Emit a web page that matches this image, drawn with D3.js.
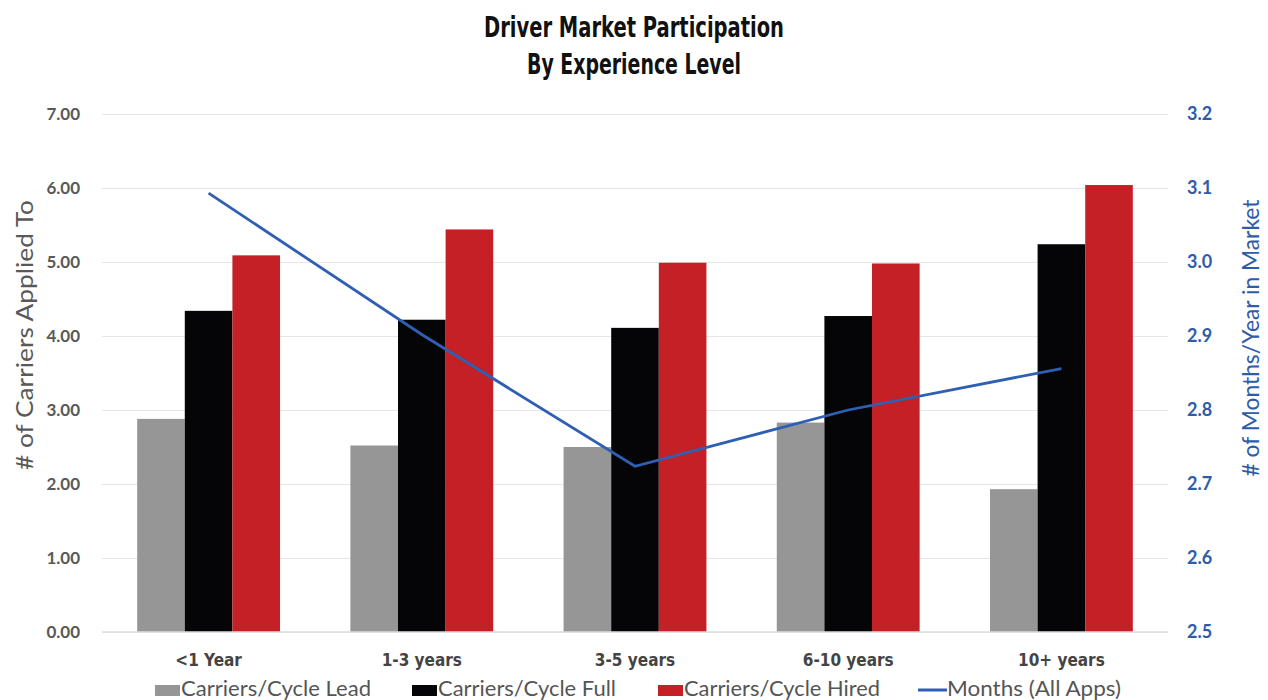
<!DOCTYPE html>
<html>
<head>
<meta charset="utf-8">
<script src="https://cdn.jsdelivr.net/npm/d3@7"></script>
<style>
  body { margin: 0; background: #fff; }
  .title { font-family: "DejaVu Sans Condensed", "DejaVu Sans", sans-serif; font-stretch: condensed; font-weight: bold; font-size: 29px; fill: #111; }
  .tick-l text { font-family: Lato, "Open Sans", sans-serif; font-weight: bold; font-size: 17px; fill: #595959; }
  .tick-r text { font-family: Lato, "Open Sans", sans-serif; font-weight: bold; font-size: 18px; fill: #2f5ca8; }
  .x-label { font-family: "DejaVu Sans Condensed", "DejaVu Sans", sans-serif; font-stretch: condensed; font-weight: bold; font-size: 17px; fill: #444; }
  .axis-title { font-family: Lato, "Open Sans", sans-serif; font-size: 23px; }
  .legend text { font-family: Lato, "Open Sans", sans-serif; font-size: 21px; fill: #555; }
</style>
</head>
<body>
<div id="chart"></div>
<script>
const categories = ["<1 Year", "1-3 years", "3-5 years", "6-10 years", "10+ years"];
const seriesNames = ["Carriers/Cycle Lead", "Carriers/Cycle Full", "Carriers/Cycle Hired"];
const leadValues = [2.88, 2.52, 2.50, 2.83, 1.93];
const fullValues = [4.34, 4.22, 4.11, 4.27, 5.24];
const hiredValues = [5.09, 5.44, 4.99, 4.98, 6.04];
const monthsValues = [3.093, 2.902, 2.724, 2.800, 2.856];
const leftTicks = [0, 1, 2, 3, 4, 5, 6, 7];
const rightTicks = [2.5, 2.6, 2.7, 2.8, 2.9, 3.0, 3.1, 3.2];
const lineName = "Months (All Apps)";

const colors = ["#969696", "#050508", "#c52026"];
const lineColor = "#2f5fb3";

const W = 1268, H = 700;
const margin = {top: 114, right: 100, bottom: 68, left: 102};
const width = W - margin.left - margin.right,
  height = H - margin.top - margin.bottom;

const svg = d3.select("#chart").append("svg")
  .attr("width", W).attr("height", H);

// title (squeezed to the condensed look of the original)
svg.append("text").attr("class", "title")
  .attr("x", W / 2).attr("y", 37).attr("text-anchor", "middle")
  .attr("textLength", 300).attr("lengthAdjust", "spacingAndGlyphs")
  .text("Driver Market Participation");
svg.append("text").attr("class", "title")
  .attr("x", W / 2).attr("y", 74).attr("text-anchor", "middle")
  .attr("textLength", 214).attr("lengthAdjust", "spacingAndGlyphs")
  .text("By Experience Level");

const g = svg.append("g")
  .attr("transform", `translate(${margin.left}, ${margin.top})`);

const x0 = d3.scaleBand()
  .domain(categories)
  .range([0, width])
  .paddingInner(0.33)
  .paddingOuter(0.165);
const x1 = d3.scaleBand()
  .domain(seriesNames)
  .range([0, x0.bandwidth()]);

const y = d3.scaleLinear().domain([0, 7]).range([height, 0]);
const y2 = d3.scaleLinear().domain([2.5, 3.2]).range([height, 0]);

// grid lines
g.append("g")
  .attr("class", "grid")
  .call(d3.axisLeft(y).tickValues(leftTicks).tickSize(-width).tickFormat(""))
  .call(s => s.select(".domain").remove())
  .call(s => s.selectAll("line").attr("stroke", "#e6e6e6").attr("stroke-width", 1.2));

// left axis
g.append("g")
  .attr("class", "tick-l")
  .call(d3.axisLeft(y).tickValues(leftTicks).tickFormat(d3.format(".2f")).tickSize(0).tickPadding(22))
  .call(s => s.select(".domain").remove());

// right axis
g.append("g")
  .attr("class", "tick-r")
  .attr("transform", `translate(${width}, 0)`)
  .call(d3.axisRight(y2).tickValues(rightTicks).tickFormat(d3.format(".1f")).tickSize(0).tickPadding(19))
  .call(s => s.select(".domain").remove());

// bars
const rows = categories.map((c, i) => ({
  cat: c,
  vals: [leadValues[i], fullValues[i], hiredValues[i]]
}));

g.append("g")
  .selectAll("g")
  .data(rows)
  .join("g")
  .attr("transform", d => `translate(${x0(d.cat)}, 0)`)
  .selectAll("rect")
  .data(d => d.vals.map((v, k) => ({name: seriesNames[k], value: v, k: k})))
  .join("rect")
  .attr("x", d => x1(d.name))
  .attr("y", d => y(d.value))
  .attr("width", x1.bandwidth())
  .attr("height", d => height - y(d.value))
  .attr("fill", d => colors[d.k]);

// baseline
g.append("line")
  .attr("x1", 0).attr("x2", width)
  .attr("y1", height).attr("y2", height)
  .attr("stroke", "#dcdcdc").attr("stroke-width", 1.5);

// x labels
const xAxis = g.append("g")
  .attr("transform", `translate(0, ${height})`)
  .call(d3.axisBottom(x0).tickSize(0).tickPadding(22))
  .call(s => s.select(".domain").remove());
xAxis.selectAll("text").attr("class", "x-label");

// line
const line = d3.line()
  .x((d, i) => x0(categories[i]) + x0.bandwidth() / 2)
  .y(d => y2(d));
g.append("path")
  .datum(monthsValues)
  .attr("d", line)
  .attr("fill", "none")
  .attr("stroke", lineColor)
  .attr("stroke-width", 2.8);

// axis titles
svg.append("text")
  .attr("class", "axis-title")
  .attr("transform", `translate(33, 335) rotate(-90)`)
  .attr("text-anchor", "middle")
  .attr("textLength", 270).attr("lengthAdjust", "spacingAndGlyphs")
  .attr("fill", "#595959")
  .text("# of Carriers Applied To");
svg.append("text")
  .attr("class", "axis-title")
  .attr("transform", `translate(1259, 338) rotate(-90)`)
  .attr("text-anchor", "middle")
  .attr("textLength", 277).attr("lengthAdjust", "spacingAndGlyphs")
  .attr("fill", "#2f5ca8")
  .text("# of Months/Year in Market");

// legend
const legendItems = [
  {label: seriesNames[0], type: "rect", color: colors[0], x: 155, w: 190},
  {label: seriesNames[1], type: "rect", color: colors[1], x: 412, w: 178},
  {label: seriesNames[2], type: "rect", color: colors[2], x: 658, w: 196},
  {label: lineName, type: "line", color: lineColor, x: 918, w: 174}
];
const legend = svg.append("g").attr("class", "legend");
const li = legend.selectAll("g").data(legendItems).join("g")
  .attr("transform", d => `translate(${d.x}, 690)`);
li.filter(d => d.type === "rect").append("rect")
  .attr("x", 0).attr("y", -5).attr("width", 25).attr("height", 11)
  .attr("fill", d => d.color);
li.filter(d => d.type === "line").append("line")
  .attr("x1", 0).attr("x2", 29).attr("y1", 0).attr("y2", 0)
  .attr("stroke", d => d.color).attr("stroke-width", 3);
li.append("text")
  .attr("x", d => d.type === "line" ? 29 : 26)
  .attr("y", 6)
  .attr("textLength", d => d.w).attr("lengthAdjust", "spacingAndGlyphs")
  .text(d => d.label);
</script>
</body>
</html>
